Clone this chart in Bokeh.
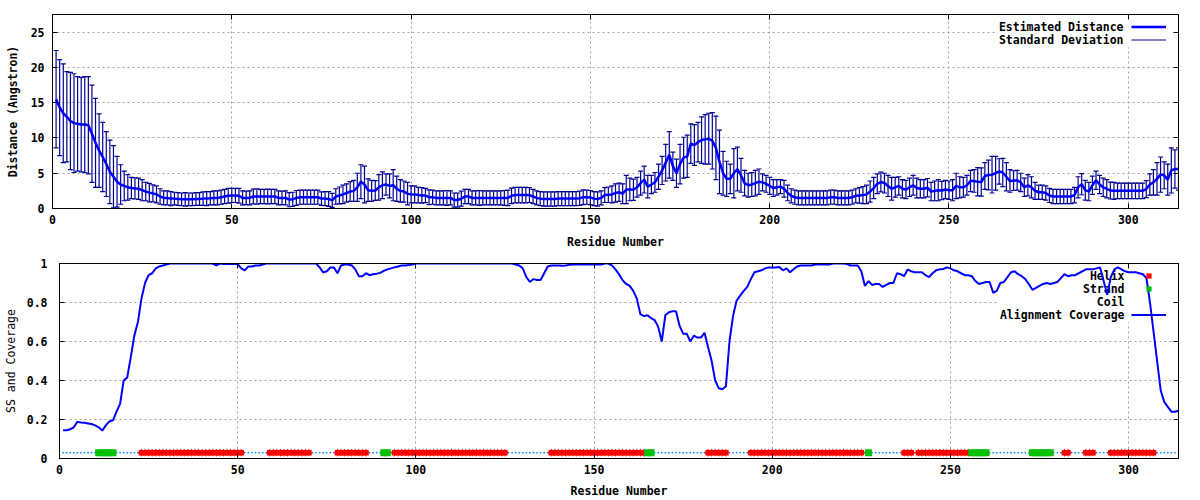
import numpy as np
from bokeh.plotting import figure
from bokeh.models import (ColumnDataSource, Label, Legend, LegendItem, FixedTicker,
                          LinearAxis, Range1d, BoxAnnotation)
from bokeh.embed import file_html
from bokeh.resources import INLINE

# ---------------- data ----------------
residues = list(range(1, 315))

distance = [
    15.5, 14.3, 13.5, 13.0, 12.4, 12.1, 12.0, 11.9, 11.9, 11.8,
    10.6, 9.3, 8.2, 7.3, 6.3, 5.2, 4.5, 3.8, 3.4, 3.2,
    3.0, 2.9, 2.85, 2.8, 2.6, 2.4, 2.25, 2.15, 2.0, 1.7,
    1.5, 1.5, 1.4, 1.4, 1.35, 1.3, 1.3, 1.3, 1.3, 1.35,
    1.35, 1.4, 1.4, 1.45, 1.5, 1.5, 1.6, 1.7, 1.8, 1.85,
    1.85, 1.8, 1.5, 1.5, 1.5, 1.7, 1.7, 1.7, 1.7, 1.7,
    1.7, 1.7, 1.5, 1.5, 1.5, 1.25, 1.3, 1.5, 1.6, 1.6,
    1.6, 1.6, 1.6, 1.6, 1.4, 1.4, 1.35, 1.15, 1.7, 1.85,
    2.0, 2.2, 2.4, 2.5, 3.0, 3.8, 3.4, 2.6, 2.5, 2.55,
    3.0, 3.3, 3.4, 3.2, 3.3, 2.8, 2.5, 2.4, 2.1, 2.0,
    2.0, 1.9, 1.85, 1.84, 1.6, 1.6, 1.5, 1.5, 1.5, 1.5,
    1.5, 1.2, 1.2, 1.4, 1.7, 1.7, 1.5, 1.5, 1.5, 1.5,
    1.5, 1.5, 1.5, 1.5, 1.5, 1.5, 1.5, 1.8, 1.9, 1.9,
    1.9, 1.9, 1.9, 1.7, 1.5, 1.4, 1.35, 1.35, 1.35, 1.35,
    1.4, 1.4, 1.4, 1.4, 1.4, 1.4, 1.45, 1.6, 1.6, 1.55,
    1.4, 1.35, 1.5, 1.9, 1.95, 2.0, 2.2, 2.3, 2.1, 2.7,
    2.7, 2.65, 3.0, 3.6, 4.1, 3.1, 3.4, 3.7, 4.5, 5.4,
    6.5, 7.6, 6.0, 5.0, 6.3, 7.2, 7.4, 9.2, 9.0, 9.4,
    9.7, 9.8, 9.9, 9.6, 8.6, 6.6, 5.0, 4.2, 4.2, 5.0,
    5.6, 4.7, 3.6, 3.3, 3.4, 3.6, 3.8, 3.7, 3.5, 3.2,
    2.9, 3.0, 3.1, 2.8, 2.2, 1.8, 1.6, 1.5, 1.5, 1.5,
    1.5, 1.5, 1.5, 1.5, 1.5, 1.5, 1.6, 1.6, 1.5, 1.5,
    1.5, 1.5, 1.6, 1.8, 1.85, 1.9, 2.0, 2.4, 2.9, 3.5,
    3.75, 3.6, 3.2, 2.8, 3.0, 3.2, 2.8, 2.7, 3.0, 3.3,
    2.9, 2.8, 2.8, 2.95, 2.4, 2.5, 2.6, 2.55, 2.7, 2.6,
    2.6, 3.2, 3.0, 3.0, 3.3, 3.9, 3.9, 3.8, 3.75, 4.6,
    4.75, 4.8, 5.0, 5.25, 5.1, 4.5, 3.9, 3.95, 4.0, 3.7,
    3.0, 3.3, 3.0, 2.5, 2.3, 2.3, 2.2, 1.85, 1.7, 1.7,
    1.7, 1.7, 1.7, 1.7, 1.9, 3.0, 3.45, 2.6, 2.4, 3.3,
    4.0, 3.4, 3.0, 2.8, 2.55, 2.5, 2.5, 2.5, 2.5, 2.5,
    2.5, 2.5, 2.5, 2.5, 2.75, 3.4, 3.7, 4.2, 4.8, 4.7,
    4.1, 5.4, 5.6, 5.6,
]

std_dev = [
    6.9, 6.8, 7.0, 6.4, 6.9, 7.0, 6.7, 6.7, 6.8, 6.9,
    6.9, 6.3, 5.2, 4.9, 4.6, 4.5, 4.4, 3.6, 2.8, 2.1,
    1.8, 1.5, 1.5, 1.5, 1.5, 1.3, 1.3, 1.2, 1.2, 1.1,
    1.0, 1.0, 1.0, 0.9, 0.9, 0.9, 0.95, 0.9, 0.9, 0.9,
    0.9, 0.95, 1.0, 0.95, 1.0, 1.0, 1.0, 1.0, 1.05, 1.0,
    1.0, 1.05, 1.0, 0.95, 1.0, 1.05, 1.1, 1.0, 1.0, 1.05,
    1.0, 1.0, 1.0, 0.95, 1.0, 1.0, 1.0, 1.05, 1.0, 1.0,
    1.0, 1.0, 1.0, 1.0, 0.95, 1.0, 1.05, 1.0, 1.1, 1.2,
    1.3, 1.3, 1.4, 1.5, 2.0, 2.4, 2.6, 1.6, 1.5, 1.4,
    1.8, 1.9, 1.5, 1.7, 2.2, 1.8, 1.6, 1.5, 1.6, 1.2,
    1.2, 1.1, 1.1, 1.0, 1.05, 1.0, 1.0, 1.0, 1.0, 1.05,
    1.0, 1.0, 1.0, 1.05, 1.0, 1.0, 1.0, 1.0, 1.05, 1.0,
    1.0, 1.0, 1.0, 1.0, 1.0, 1.05, 1.1, 1.1, 1.1, 1.1,
    1.1, 1.1, 1.05, 1.0, 1.0, 1.0, 1.0, 1.0, 1.0, 1.0,
    1.0, 1.0, 1.0, 1.0, 1.0, 1.0, 1.0, 1.05, 1.0, 1.0,
    1.0, 1.0, 1.0, 1.05, 1.1, 1.2, 1.3, 1.3, 1.4, 2.0,
    1.6, 1.5, 1.4, 1.7, 1.9, 1.6, 1.3, 1.4, 1.8, 2.0,
    2.6, 3.3, 2.0, 2.0, 2.8, 2.9, 3.0, 2.8, 2.9, 2.8,
    3.3, 3.5, 3.6, 4.0, 4.5, 4.5, 3.1, 2.5, 2.1, 3.5,
    3.1, 2.4, 1.8, 1.7, 1.7, 1.8, 1.8, 1.2, 1.2, 1.2,
    1.2, 1.1, 1.0, 1.2, 1.1, 1.0, 1.0, 1.0, 1.0, 1.0,
    1.0, 1.0, 1.0, 1.0, 1.0, 1.0, 1.0, 1.0, 1.0, 1.0,
    1.0, 1.0, 1.0, 1.0, 1.1, 1.2, 1.3, 1.5, 1.5, 1.4,
    1.4, 1.4, 1.5, 1.6, 1.4, 1.3, 1.3, 1.3, 1.3, 1.4,
    1.4, 1.3, 1.3, 1.3, 1.3, 1.4, 1.5, 1.3, 1.3, 1.3,
    1.5, 1.8, 1.5, 1.4, 1.4, 1.5, 1.6, 2.0, 2.0, 1.9,
    2.1, 2.6, 2.4, 1.8, 2.0, 2.0, 1.6, 1.4, 1.4, 1.3,
    1.3, 1.5, 1.5, 1.2, 1.0, 1.0, 1.0, 1.0, 1.0, 1.0,
    1.0, 1.0, 1.0, 1.0, 1.1, 1.5, 1.5, 1.4, 1.3, 1.3,
    1.3, 1.3, 1.3, 1.3, 1.2, 1.2, 1.1, 1.1, 1.1, 1.1,
    1.1, 1.1, 1.1, 1.1, 1.2, 1.5, 1.8, 2.3, 2.5, 1.9,
    2.2, 3.2, 2.7, 3.0,
]

coverage = [
    0.145, 0.145, 0.15, 0.16, 0.188, 0.185, 0.183, 0.18, 0.177, 0.17,
    0.16, 0.143, 0.17, 0.19, 0.196, 0.24, 0.28, 0.40, 0.415, 0.52,
    0.63, 0.70, 0.82, 0.90, 0.94, 0.95, 0.975, 0.985, 0.99, 0.995,
    1.0, 1.0, 1.0, 1.0, 1.0, 1.0, 1.0, 1.0, 1.0, 1.0,
    1.0, 1.0, 1.0, 0.99, 1.0, 0.997, 0.997, 0.997, 0.997, 0.997,
    0.975, 0.965, 0.985, 0.985, 0.99, 0.99, 0.995, 1.0, 1.0, 1.0,
    1.0, 1.0, 1.0, 1.0, 1.0, 1.0, 1.0, 1.0, 1.0, 1.0,
    1.0, 1.0, 0.98, 0.954, 0.96, 0.98, 0.98, 0.95, 0.99, 0.995,
    0.995, 0.99, 0.97, 0.935, 0.935, 0.95, 0.94, 0.945, 0.948, 0.952,
    0.962, 0.97, 0.975, 0.98, 0.985, 0.99, 0.99, 0.992, 0.995, 1.0,
    1.0, 1.0, 1.0, 1.0, 1.0, 1.0, 1.0, 1.0, 1.0, 1.0,
    1.0, 1.0, 1.0, 1.0, 1.0, 1.0, 1.0, 1.0, 1.0, 1.0,
    1.0, 1.0, 1.0, 1.0, 1.0, 1.0, 1.0, 0.995, 0.99, 0.975,
    0.93, 0.905, 0.92, 0.915, 0.915, 0.95, 0.985, 0.99, 0.99, 0.99,
    0.988, 0.99, 0.993, 0.995, 0.995, 0.995, 0.995, 0.995, 0.995, 0.995,
    0.995, 0.995, 1.0, 1.0, 0.99, 0.97, 0.945, 0.915, 0.895, 0.885,
    0.86, 0.82, 0.74, 0.73, 0.735, 0.72, 0.71, 0.675, 0.6, 0.735,
    0.75, 0.755, 0.755, 0.68, 0.64, 0.64, 0.6, 0.63, 0.62, 0.62,
    0.645, 0.57, 0.5, 0.4, 0.36, 0.355, 0.37, 0.6, 0.73, 0.81,
    0.835, 0.86, 0.88, 0.92, 0.955, 0.96, 0.965, 0.975, 0.98, 0.98,
    0.98, 0.982, 0.965, 0.975, 0.955, 0.97, 0.985, 0.99, 0.99, 0.99,
    0.99, 0.995, 0.995, 0.995, 0.995, 0.995, 1.0, 1.0, 1.0, 1.0,
    0.997, 0.99, 0.99, 0.99, 0.96, 0.885, 0.91, 0.89, 0.895, 0.895,
    0.88, 0.89, 0.9, 0.9, 0.95, 0.945, 0.935, 0.97, 0.96, 0.955,
    0.955, 0.955, 0.94, 0.93, 0.95, 0.965, 0.97, 0.972, 0.98, 0.975,
    0.965, 0.96, 0.95, 0.94, 0.94, 0.935, 0.91, 0.895, 0.9, 0.905,
    0.905, 0.85, 0.86, 0.9, 0.905, 0.93, 0.955, 0.96, 0.945, 0.935,
    0.92, 0.895, 0.865, 0.875, 0.885, 0.895, 0.9, 0.895, 0.9, 0.905,
    0.925, 0.945, 0.935, 0.94, 0.94, 0.95, 0.96, 0.97, 0.97, 0.97,
    0.975, 0.98, 0.91, 0.84, 0.93, 0.97, 0.98, 0.97, 0.96, 0.955,
    0.955, 0.955, 0.95, 0.945, 0.925, 0.8, 0.65, 0.5, 0.35, 0.29,
    0.265, 0.24, 0.24, 0.245,
]

# secondary structure: (type, first residue, last residue)
ss_segments = [
    ("C", 1, 10), ("E", 11, 15), ("C", 16, 22), ("H", 23, 51), ("C", 52, 58),
    ("H", 59, 70), ("C", 71, 77), ("H", 78, 86), ("C", 87, 90), ("E", 91, 92),
    ("C", 93, 93), ("H", 94, 125), ("C", 126, 137), ("H", 138, 164), ("E", 165, 166),
    ("C", 167, 181), ("H", 182, 187), ("C", 188, 193), ("H", 194, 225), ("C", 226, 226),
    ("E", 227, 227), ("C", 228, 236), ("H", 237, 239), ("C", 240, 240), ("H", 241, 255),
    ("E", 256, 260), ("C", 261, 272), ("E", 273, 278), ("C", 279, 281), ("H", 282, 283),
    ("C", 284, 287), ("H", 288, 290), ("C", 291, 294), ("H", 295, 307), ("C", 308, 314),
]
ss_level = 0.03

x_ticks = [0, 50, 100, 150, 200, 250, 300]
dist_ticks = [0, 5, 10, 15, 20, 25]
cov_ticks = [0, 0.2, 0.4, 0.6, 0.8, 1.0]
cov_tick_labels = ["0", "0.2", "0.4", "0.6", "0.8", "1"]

assert len(distance) == len(residues) == len(std_dev) == len(coverage)

# ---------------- styling helpers ----------------
FONT = "DejaVu Sans Mono"
FS = "11.5px"
GRID = "#a0a0a0"


def style_axes(p, yticks, ylabel, ylabel_style, y_standoff, y_label_standoff,
               x_label_standoff, y_overrides=None):
    p.outline_line_color = "black"
    p.outline_line_width = 1
    p.xaxis.ticker = FixedTicker(ticks=x_ticks)
    p.yaxis.ticker = FixedTicker(ticks=yticks)
    if y_overrides:
        p.yaxis.major_label_overrides = y_overrides
    for ax in (p.xaxis[0], p.yaxis[0]):
        ax.major_tick_in = 5
        ax.major_tick_out = 0
        ax.minor_tick_line_color = None
        ax.axis_line_color = "black"
        ax.major_tick_line_color = "black"
        ax.major_label_text_font = FONT
        ax.major_label_text_font_style = "bold"
        ax.major_label_text_font_size = FS
        ax.major_label_text_color = "black"
        ax.axis_label_text_font = FONT
        ax.axis_label_text_font_size = FS
        ax.axis_label_text_color = "black"
    p.xaxis.axis_label = "Residue Number"
    p.xaxis.axis_label_text_font_style = "bold"
    p.xaxis.major_label_standoff = 6
    p.xaxis.axis_label_standoff = x_label_standoff
    p.yaxis.axis_label = ylabel
    p.yaxis.axis_label_text_font_style = ylabel_style
    p.yaxis.major_label_standoff = y_standoff
    p.yaxis.axis_label_standoff = y_label_standoff
    # mirrored inward ticks on top and right (no labels)
    for loc, ticks in (("right", yticks), ("above", x_ticks)):
        ax = LinearAxis(ticker=FixedTicker(ticks=ticks), major_label_text_font_size="1px",
                        major_label_text_color=None, major_tick_in=5, major_tick_out=0,
                        major_label_standoff=0, minor_tick_line_color=None,
                        axis_line_color="black")
        p.add_layout(ax, loc)
    for g in (p.xgrid[0], p.ygrid[0]):
        g.grid_line_color = GRID
        g.grid_line_dash = "2 3"
        g.grid_line_width = 1


def add_key(p, names, renderers, frame_w, frame_h, box_left, box_depth,
            text_right, glyph_left, first_center, row_h=13):
    # opaque key area (hides grid lines, stays under the data)
    p.add_layout(BoxAnnotation(left=box_left, right=frame_w, bottom=frame_h - box_depth, top=frame_h,
                               left_units="screen", right_units="screen",
                               bottom_units="screen", top_units="screen",
                               fill_color="white", fill_alpha=1, line_color=None,
                               level="underlay"))
    for i, name in enumerate(names):
        p.add_layout(Label(x=text_right, y=frame_h - (first_center + i * row_h),
                           x_units="screen", y_units="screen", text=name,
                           text_align="right", text_baseline="middle",
                           text_font=FONT, text_font_style="bold", text_font_size=FS,
                           text_color="black", level="underlay"))
    items = [LegendItem(label=" ", renderers=r) for r in renderers]
    bottom = frame_h - (first_center - row_h / 2 + len(names) * row_h)
    leg = Legend(items=items, location=(glyph_left, bottom), glyph_width=35, glyph_height=row_h,
                 label_height=row_h, label_width=0, label_standoff=0, spacing=0, padding=0,
                 margin=0, label_text_font_size="1px", label_text_color=None,
                 background_fill_alpha=0, border_line_alpha=0)
    p.add_layout(leg, "center")


# ---------------- top panel ----------------
res = np.array(residues, dtype=float)
d = np.array(distance)
s = np.array(std_dev)
top_src = ColumnDataSource(dict(x=res, d=d, lo=d - s, hi=d + s))

p1 = figure(width=1200, height=258, min_border_left=52, min_border_right=22,
            min_border_top=14, min_border_bottom=50,
            x_range=Range1d(0, 314), y_range=Range1d(0, 27.5),
            output_backend="svg", toolbar_location=None)
style_axes(p1, dist_ticks, "Distance (Angstron)", "bold", 8, 8, 8)

BAR = "#000090"
stems = p1.segment(x0="x", y0="lo", x1="x", y1="hi", source=top_src, line_color=BAR, line_width=1.2)
p1.scatter(x="x", y="hi", source=top_src, marker="dash", size=5, line_color=BAR, line_width=1.2)
p1.scatter(x="x", y="lo", source=top_src, marker="dash", size=5, line_color=BAR, line_width=1.2)
dline = p1.line(x="x", y="d", source=top_src, line_color="#0000ff", line_width=2.5)

add_key(p1, ["Estimated Distance", "Standard Deviation"], [[dline], [stems]],
        frame_w=1126, frame_h=194, box_left=945, box_depth=33,
        text_right=1071, glyph_left=1079, first_center=12)

# ---------------- bottom panel ----------------
codes = []
for kind, a, b in ss_segments:
    codes += [kind] * (b - a + 1)
codes = np.array(codes)
helix_x = res[codes == "H"]
strand_x = res[codes == "E"]
coil_x = res[codes == "C"]

p2 = figure(width=1200, height=242, min_border_left=58, min_border_right=22,
            min_border_top=5, min_border_bottom=42,
            x_range=Range1d(0, 314), y_range=Range1d(0, 1),
            output_backend="svg", toolbar_location=None)
style_axes(p2, cov_ticks, "SS and Coverage", "normal", 12, 6, 7,
           y_overrides={t: lab for t, lab in zip(cov_ticks, cov_tick_labels)})

coil_r = p2.scatter(x=coil_x, y=[ss_level] * len(coil_x), marker="dot", size=7,
                    line_color="#0a8cff", fill_color="#0a8cff")
helix_r = p2.scatter(x=helix_x, y=[ss_level] * len(helix_x), marker="square", size=5.5,
                     line_color=None, fill_color="#ff0000")
p2.scatter(x=helix_x, y=[ss_level] * len(helix_x), marker="cross", size=7.5,
           line_color="#ff0000", line_width=1)
strand_r = p2.scatter(x=strand_x, y=[ss_level] * len(strand_x), marker="square", size=7,
                      line_color=None, fill_color="#00c000")
cov_r = p2.line(x=res, y=coverage, line_color="#0000ff", line_width=2)

add_key(p2, ["Helix", "Strand", "Coil", "Alignment Coverage"],
        [[helix_r], [strand_r], [coil_r], [cov_r]],
        frame_w=1120, frame_h=195, box_left=939, box_depth=59,
        text_right=1065, glyph_left=1072, first_center=12)

# two independent roots stacked on the page (no frame alignment between them)
open("out.html", "w").write(file_html([p1, p2], INLINE))
